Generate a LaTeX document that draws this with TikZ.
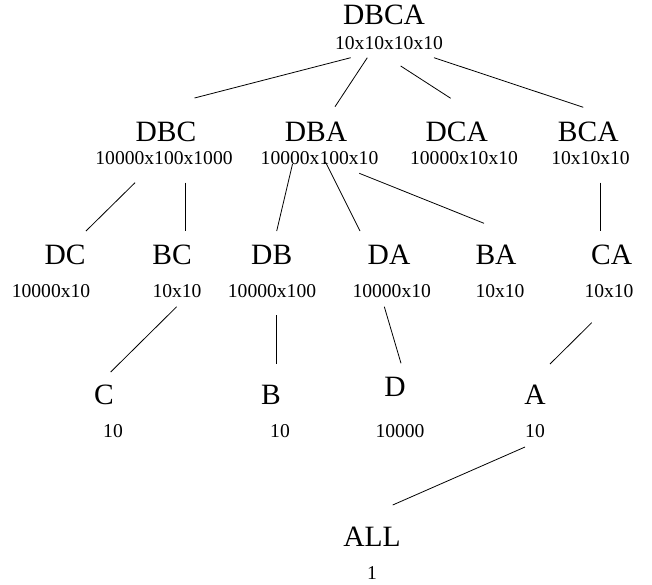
\documentclass[tikz,border=0pt]{standalone}
\usepackage{fontspec}
\setmainfont{Liberation Serif}
\begin{document}
\begin{tikzpicture}[x=1pt,y=-1pt,
  lbl/.style={inner sep=0pt,outer sep=0pt,font=\fontsize{29.5}{30}\selectfont},
  num/.style={inner sep=0pt,outer sep=0pt,font=\fontsize{19.6}{20}\selectfont},
  edge/.style={line width=0.8pt,black}]
\useasboundingbox (0,0) rectangle (652,584);
% level 0
\node[lbl] (dbca) at (384,15) {DBCA};
\node[num] (dbcan) at (389,43.5) {10x10x10x10};
% level 1
\node[lbl] (dbc) at (166,131.7) {DBC};
\node[num] (dbcn) at (164,158.3) {10000x100x1000};
\node[lbl] (dba) at (316,131.7) {DBA};
\node[num] (dban) at (319.5,158.3) {10000x100x10};
\node[lbl] (dca) at (456.7,131.7) {DCA};
\node[num] (dcan) at (464,158.3) {10000x10x10};
\node[lbl] (bca) at (588.3,131.7) {BCA};
\node[num] (bcan) at (590.5,158.3) {10x10x10};
% level 2
\node[lbl] (dc) at (65,255) {DC};
\node[num] (dcn) at (51,291.5) {10000x10};
\node[lbl] (bc) at (172,255) {BC};
\node[num] (bcn) at (177,291.5) {10x10};
\node[lbl] (db) at (271.7,255) {DB};
\node[num] (dbn) at (272,291.5) {10000x100};
\node[lbl] (da) at (389,255) {DA};
\node[num] (dan) at (391.7,291.5) {10000x10};
\node[lbl] (ba) at (496,255) {BA};
\node[num] (ban) at (500,291.5) {10x10};
\node[lbl] (ca) at (611.7,255) {CA};
\node[num] (can) at (609,291.5) {10x10};
% level 3
\node[lbl] (c) at (104,395) {C};
\node[num] (cn) at (113,431.5) {10};
\node[lbl] (b) at (271,395) {B};
\node[num] (bn) at (280,431.5) {10};
\node[lbl] (d) at (395,386.7) {D};
\node[num] (dn) at (400,431.5) {10000};
\node[lbl] (a) at (535,395) {A};
\node[num] (an) at (535,431.5) {10};
% level 4
\node[lbl] (all) at (372,537) {ALL};
\node[num] (alln) at (372,573) {1};
% connector ends
\coordinate (e1a) at (350.7,57.7); \coordinate (e1b) at (194.5,98);
\coordinate (e2a) at (367.3,57.7); \coordinate (e2b) at (335,106.7);
\coordinate (e3a) at (400.7,66);   \coordinate (e3b) at (450.7,98.3);
\coordinate (e4a) at (434,57.7);   \coordinate (e4b) at (583.3,107.3);
\coordinate (e5a) at (135,182.7);  \coordinate (e5b) at (86,231);
\coordinate (e6a) at (185.3,182.7);\coordinate (e6b) at (185.3,231);
\coordinate (e7a) at (292.5,164);  \coordinate (e7b) at (276.7,231);
\coordinate (e8a) at (325.5,162);  \coordinate (e8b) at (360,231);
\coordinate (e9a) at (359.3,173.3);\coordinate (e9b) at (484,223.3);
\coordinate (e10a) at (600,182.7); \coordinate (e10b) at (600,231);
\coordinate (e11a) at (176.7,306.7);\coordinate (e11b) at (110.7,372);
\coordinate (e12a) at (276.7,315); \coordinate (e12b) at (276.7,364);
\coordinate (e13a) at (384.3,306.7);\coordinate (e13b) at (401,363.3);
\coordinate (e14a) at (591.7,322.7);\coordinate (e14b) at (550,364);
\coordinate (e15a) at (525,447);   \coordinate (e15b) at (392.7,505);
\foreach \i in {1,...,15} {\draw[edge] (e\i a) -- (e\i b);}
\end{tikzpicture}
\end{document}
